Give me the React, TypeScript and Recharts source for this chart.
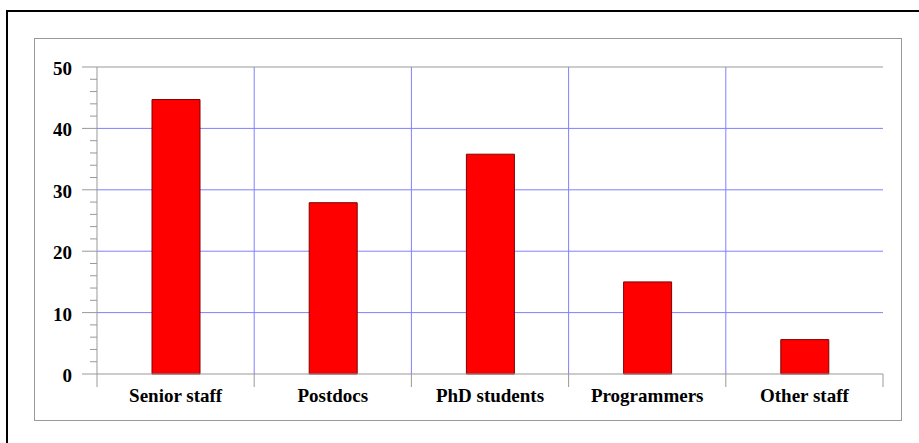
import React from "react";
import { BarChart, Bar, XAxis, YAxis, CartesianGrid, ReferenceLine } from "recharts";

const categories = ["Senior staff", "Postdocs", "PhD students", "Programmers", "Other staff"];
const staffCounts = [44.7, 27.9, 35.8, 15.0, 5.6];
const yTicks = [0, 2, 4, 6, 8, 10, 12, 14, 16, 18, 20, 22, 24, 26, 28, 30, 32, 34, 36, 38, 40, 42, 44, 46, 48, 50];
const gridValues = [10, 20, 30, 40];

const data = categories.map((c, i) => ({ name: c, value: staffCounts[i] }));

const W = 919;
const H = 443;
const M = { top: 67, right: 36, bottom: 39, left: 37 };
const Y_W = 60;
const X_H = 30;
const PLOT_W = W - M.left - M.right - Y_W;
const BAND = PLOT_W / categories.length;
const AXIS_GRAY = "#999999";
const GRID_BLUE = "#8080ff";
const FONT = "'Liberation Serif', 'Times New Roman', serif";
const Y_TICK = 15;
const Y_MARGIN = 10;

const YTick = (props: any) => {
  const { x, y, payload } = props;
  const axisX = x + Y_TICK + Y_MARGIN;
  const major = payload.value % 10 === 0;
  return (
    <g>
      <line x1={axisX - (major ? Y_TICK : 7)} x2={axisX} y1={y} y2={y} stroke={AXIS_GRAY} strokeWidth={1} />
      {major && (
        <text x={x} y={y} dy={8} textAnchor="end" fontFamily={FONT} fontWeight="bold" fontSize={19} fill="#000">
          {payload.value}
        </text>
      )}
    </g>
  );
};

const XTick = (props: any) => {
  const { x, y, payload, index } = props;
  const top = y - 8;
  return (
    <g>
      <line x1={x - BAND / 2} x2={x - BAND / 2} y1={top} y2={top + 13} stroke={AXIS_GRAY} />
      {index === categories.length - 1 && (
        <line x1={x + BAND / 2} x2={x + BAND / 2} y1={top} y2={top + 13} stroke={AXIS_GRAY} />
      )}
      <text x={x} y={top + 28} textAnchor="middle" fontFamily={FONT} fontWeight="bold" fontSize={19} fill="#000">
        {payload.value}
      </text>
    </g>
  );
};

export default function App() {
  return (
    <div style={{ position: "absolute", left: 0, top: 0, width: W, height: H, overflow: "hidden", background: "#fff" }}>
      <div style={{ position: "absolute", left: 6, top: 10, width: 2000, height: 2000, borderLeft: "2px solid #000", borderTop: "2px solid #000" }} />
      <div style={{ position: "absolute", left: 34, top: 38, width: 866, height: 381, border: "1px solid #999" }} />
      <div style={{ position: "absolute", left: 0, top: 0 }}>
        <BarChart width={W} height={H} data={data} margin={M} barSize={48}>
          <CartesianGrid
            yAxisId="left"
            xAxisId="cat"
            stroke={GRID_BLUE}
            horizontalValues={gridValues}
            verticalCoordinatesGenerator={({ offset }: any) =>
              categories.slice(1).map((_, i) => offset.left + (i + 1) * (offset.width / categories.length))
            }
          />
          <XAxis
            xAxisId="cat"
            dataKey="name"
            height={X_H}
            axisLine={{ stroke: AXIS_GRAY }}
            tickLine={false}
            tick={<XTick />}
            interval={0}
          />
          <YAxis
            yAxisId="left"
            width={Y_W}
            domain={[0, 50]}
            ticks={yTicks}
            interval={0}
            tickSize={Y_TICK}
            tickMargin={Y_MARGIN}
            tickLine={false}
            axisLine={{ stroke: AXIS_GRAY }}
            tick={<YTick />}
          />
          <YAxis yAxisId="right" orientation="right" width={0} domain={[0, 50]} tick={false} tickLine={false} axisLine={{ stroke: AXIS_GRAY }} />
          <ReferenceLine yAxisId="left" xAxisId="cat" y={50} stroke={AXIS_GRAY} />
          <Bar xAxisId="cat" yAxisId="left" dataKey="value" fill="#ff0000" stroke="#800000" strokeWidth={1} isAnimationActive={false} />
        </BarChart>
      </div>
    </div>
  );
}
